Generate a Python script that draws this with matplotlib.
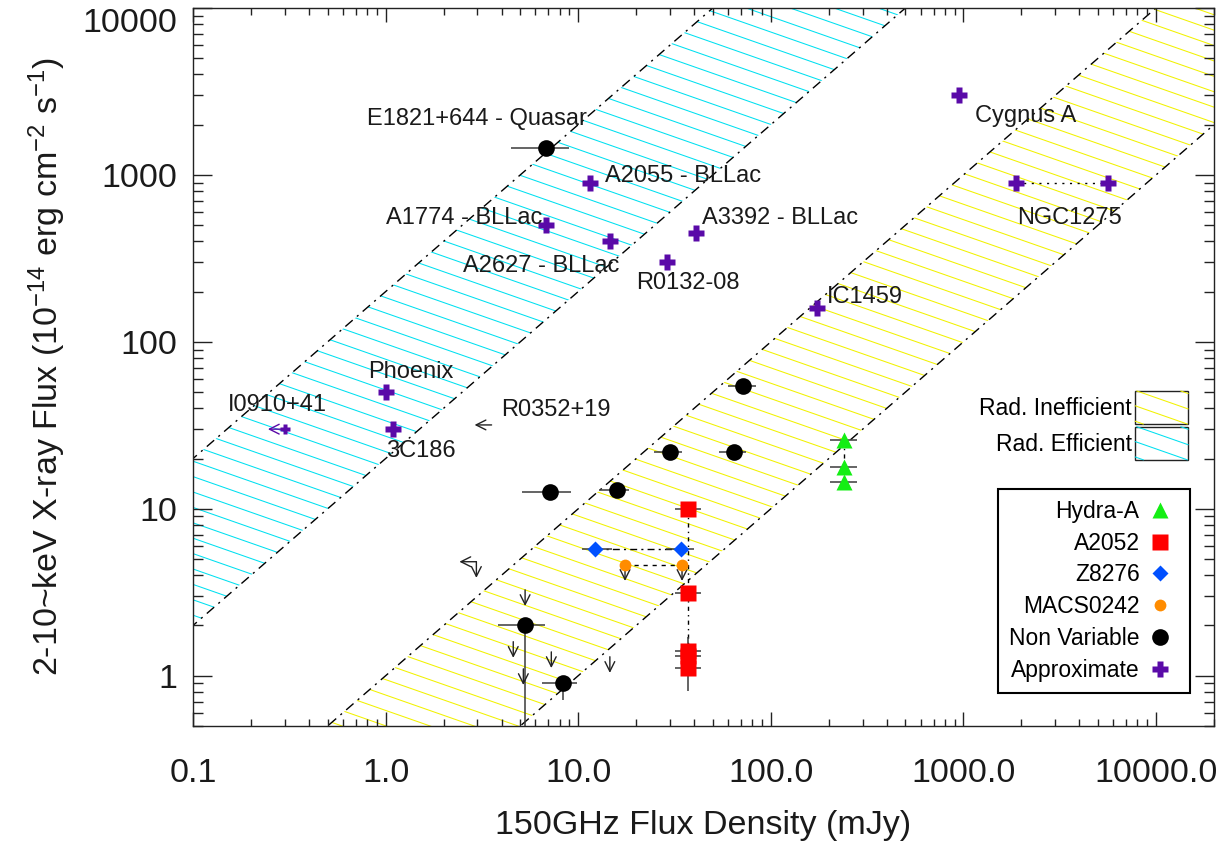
import numpy as np
import matplotlib
matplotlib.use('Agg')
import matplotlib.pyplot as plt
from matplotlib.patches import Polygon, Rectangle
from matplotlib.collections import LineCollection
from matplotlib.lines import Line2D
from matplotlib.legend_handler import HandlerBase
from matplotlib.ticker import NullFormatter

plt.rcParams['font.family'] = ['Liberation Sans', 'DejaVu Sans']
plt.rcParams['mathtext.fontset'] = 'custom'
plt.rcParams['mathtext.rm'] = 'Liberation Sans'
plt.rcParams['mathtext.default'] = 'regular'

# bands: X-ray flux = ratio * 150GHz flux (upper, lower)
eff_band = (200.0, 20.0)
ineff_band = (1.0, 0.1)

# approximate sources (purple crosses)
approx_x = [11.5, 6.8, 14.6, 40.8, 28.9, 953.0, 173.0, 1.0, 1.09]
approx_y = [900.0, 500.0, 400.0, 450.0, 300.0, 3000.0, 160.0, 50.0, 30.0]
ngc1275_x = [1880.0, 5640.0]
ngc1275_y = [900.0, 900.0]
i0910_x = [0.30]
i0910_y = [30.0]

# non variable sources
nv_x = [6.8, 7.1, 15.9, 30.0, 64.3, 71.6, 5.3, 8.3]
nv_y = [1450.0, 12.6, 13.0, 21.9, 21.9, 54.5, 2.0, 0.91]
nv_xlo = [4.5, 5.1, 12.8, 24.8, 53.6, 60.0, 3.85, 6.5]
nv_xhi = [9.0, 9.2, 18.4, 34.7, 74.0, 84.0, 6.7, 9.8]
nv_ylo = [1450.0, 12.6, 13.0, 21.9, 21.9, 54.5, 0.3, 0.72]
nv_yhi = [1450.0, 12.6, 13.0, 21.9, 21.9, 54.5, 2.0, 0.91]

# variable sources
hya_x = [239.0, 239.0, 239.0]
hya_y = [25.9, 17.8, 14.5]
hya_xlo, hya_xhi = 204.0, 280.0

a2052_x = [37.2, 37.2, 37.2, 37.2, 37.2]
a2052_y = [10.0, 3.14, 1.40, 1.32, 1.12]
a2052_ylo = [10.0, 3.14, 1.40, 1.32, 0.81]
a2052_yhi = [10.0, 3.14, 1.71, 1.32, 1.12]
a2052_xlo, a2052_xhi = 31.7, 43.4

z8276_x = [12.2, 34.2]
z8276_y = [5.75, 5.75]
z8276_xlo = [10.5, 28.5]
z8276_xhi = [15.0, 39.7]

macs_x = [17.5, 34.6]
macs_y = [4.62, 4.62]

# upper limits
down_x = [5.3, 4.6, 7.25, 5.19, 14.6, 2.96, 17.5, 34.6]
down_y = [3.27, 1.6, 1.39, 1.10, 1.30, 4.82, 4.62, 4.62]
left_x = [3.55, 2.96]
left_y = [31.8, 4.82]

label_text = ['E1821+644 - Quasar', 'A2055 - BLLac', 'A1774 - BLLac', 'A2627 - BLLac',
              'A3392 - BLLac', 'R0132-08', 'Cygnus A', 'NGC1275', 'IC1459', 'Phoenix',
              '3C186', 'I0910+41', 'R0352+19']
label_x = [0.80, 13.8, 1.0, 2.51, 43.9, 20.0, 1150.0, 1900.0, 195.0, 0.81, 1.0, 0.152, 3.99]
label_y = [2160.0, 986.0, 553.0, 285.0, 553.0, 225.0, 2250.0, 553.0, 186.0, 66.0, 22.3, 42.0, 39.0]

xticks = [0.1, 1, 10, 100, 1000, 10000]
xtick_labels = ['0.1', '1.0', '10.0', '100.0', '1000.0', '10000.0']
yticks = [1, 10, 100, 1000, 10000]
ytick_labels = ['1', '10', '100', '1000', '10000']

YELLOW = '#f2f200'
CYAN = '#00e0f0'
PURPLE = '#5a0aa8'
ECOL = '#3a3a3a'
SLOPE = 0.35      # hatch slope (pixels)
DV = 15.4         # hatch vertical spacing (pixels)

fig = plt.figure(figsize=(12.25, 8.44), dpi=100)
ax = fig.add_axes([193 / 1225, 1 - 726 / 844, 1021 / 1225, 718 / 844])
W = 1021.0
H = 718.0


def draw_band(ratios, color, phase):
    hi, lo = ratios
    xs = np.array([1e-3, 1e6])
    verts = [(xs[0], hi * xs[0]), (xs[1], hi * xs[1]), (xs[1], lo * xs[1]), (xs[0], lo * xs[0])]
    poly = Polygon(verts, closed=True, fc='none', ec='none', transform=ax.transData)
    ax.add_patch(poly)
    cs = np.arange(phase, H + SLOPE * W + DV, DV)
    segs = [[(0, c / H), (1, (c - SLOPE * W) / H)] for c in cs]
    lc = LineCollection(segs, colors=color, linewidths=0.75, transform=ax.transAxes, zorder=1)
    ax.add_collection(lc, autolim=False)
    lc.set_clip_path(poly)
    for r in (hi, lo):
        ax.plot(xs, r * xs, color='k', lw=1.0, dashes=(7, 4, 1.5, 4), zorder=1.5)


draw_band(eff_band, CYAN, 3.0)
draw_band(ineff_band, YELLOW, 6.0)

# connecting lines
ax.plot(ngc1275_x, ngc1275_y, color='k', lw=1, dashes=(1.5, 4), zorder=2)
ax.plot(z8276_x, z8276_y, color='k', lw=1, dashes=(5, 3, 1.5, 3), zorder=2)
ax.plot(macs_x, macs_y, color='k', lw=1, dashes=(3, 3.5), zorder=2)
ax.plot([a2052_x[0], a2052_x[-1]], [a2052_y[0], a2052_y[-1]], color='k', lw=1,
        dashes=(3, 3, 1, 3), zorder=2)
ax.plot([hya_x[0], hya_x[-1]], [hya_y[0], hya_y[-1]], color='k', lw=1,
        dashes=(3, 3, 1, 3), zorder=2)

# error bars
def errs(v, lo, hi):
    v = np.asarray(v, float)
    return [v - np.asarray(lo, float), np.asarray(hi, float) - v]

ax.errorbar(nv_x, nv_y, xerr=errs(nv_x, nv_xlo, nv_xhi), yerr=errs(nv_y, nv_ylo, nv_yhi),
            fmt='none', ecolor=ECOL, elinewidth=1.1, capsize=0, zorder=3)
ax.errorbar(hya_x, hya_y, xerr=errs(hya_x, [hya_xlo] * 3, [hya_xhi] * 3),
            fmt='none', ecolor=ECOL, elinewidth=1.1, capsize=0, zorder=3)
ax.errorbar(a2052_x, a2052_y, xerr=errs(a2052_x, [a2052_xlo] * 5, [a2052_xhi] * 5),
            yerr=errs(a2052_y, a2052_ylo, a2052_yhi),
            fmt='none', ecolor=ECOL, elinewidth=1.1, capsize=0, zorder=3)
ax.errorbar(z8276_x, z8276_y, xerr=errs(z8276_x, z8276_xlo, z8276_xhi),
            fmt='none', ecolor=ECOL, elinewidth=1.1, capsize=0, zorder=3)

# upper-limit arrows
aprops = dict(arrowstyle='->,head_length=0.5,head_width=0.25', color='#222222', lw=1.0,
              shrinkA=0, shrinkB=0, mutation_scale=14)
for x, y in zip(down_x, down_y):
    ax.annotate('', xy=(x, y * 0.80), xytext=(x, y), arrowprops=aprops, zorder=3)
for x, y in zip(left_x, left_y):
    ax.annotate('', xy=(x * 0.816, y), xytext=(x, y), arrowprops=aprops, zorder=3)
pprops = dict(aprops, color=PURPLE)
for x, y in zip(i0910_x, i0910_y):
    ax.annotate('', xy=(x * 0.816, y), xytext=(x, y), arrowprops=pprops, zorder=3)

# markers
ax.plot(hya_x, hya_y, '^', color='#14ee14', ms=12, mec='none', ls='none', zorder=4)
ax.plot(a2052_x, a2052_y, 's', color='#ff0000', ms=12, mec='none', ls='none', zorder=4)
ax.plot(z8276_x, z8276_y, 'D', color='#0050ff', ms=8.2, mec='none', ls='none', zorder=4)
ax.plot(macs_x, macs_y, 'o', color='#ff8c00', ms=8.5, mec='none', ls='none', zorder=4)
ax.plot(nv_x, nv_y, 'o', color='black', ms=12, mec='none', ls='none', zorder=4)
ax.plot(approx_x, approx_y, 'P', color=PURPLE, ms=11.5, mec='none', ls='none', zorder=4)
ax.plot(ngc1275_x, ngc1275_y, 'P', color=PURPLE, ms=11.5, mec='none', ls='none', zorder=4)
ax.plot(i0910_x, i0910_y, 'P', color=PURPLE, ms=6.5, mec='none', ls='none', zorder=4)

for t, x, y in zip(label_text, label_x, label_y):
    ax.text(x, y, t, fontsize=17, color='#1a1a1a', ha='left', va='center', zorder=5)

# axes
ax.set_xscale('log')
ax.set_yscale('log')
ax.set_xlim(0.1, 20000)
ax.set_ylim(0.5, 10000)
ax.set_xticks(xticks)
ax.set_xticklabels(xtick_labels)
ax.set_yticks(yticks)
ax.set_yticklabels(ytick_labels)
ax.xaxis.set_minor_formatter(NullFormatter())
ax.yaxis.set_minor_formatter(NullFormatter())
ax.tick_params(which='both', direction='in', top=True, right=True, width=1.0,
               color='#222222', labelsize=24.5, labelcolor='#1a1a1a')
ax.tick_params(axis='x', which='major', length=10, pad=23)
ax.tick_params(axis='x', which='minor', length=5)
ax.tick_params(axis='y', which='major', length=14, pad=11)
ax.tick_params(axis='y', which='minor', length=7)
ax.yaxis.get_major_ticks()[-1].label1.set_verticalalignment('top')
for sp in ax.spines.values():
    sp.set_linewidth(1.0)
    sp.set_color('#222222')

ax.set_xlabel('150GHz Flux Density (mJy)', fontsize=24.5, color='#1a1a1a', labelpad=15)
ax.set_ylabel('2-10~keV X-ray Flux (10$^{-14}$ erg cm$^{-2}$ s$^{-1}$)',
              fontsize=24.5, color='#1a1a1a', labelpad=11)


# legend for the hatched bands
class HatchHandler(HandlerBase):
    def __init__(self, color):
        super().__init__()
        self.color = color

    def create_artists(self, legend, orig_handle, xdescent, ydescent, width, height,
                       fontsize, trans):
        x0, y0 = -xdescent, -ydescent
        box = Rectangle((x0, y0), width, height, fc='white', ec='#222222', lw=1.0,
                        transform=trans)
        arts = [box]
        s = SLOPE
        dv = DV * 0.72
        for k in range(-4, 6):
            c = y0 + 2.0 + k * dv
            xa = max(x0, x0 + (c - (y0 + height)) / s)
            xb = min(x0 + width, x0 + (c - y0) / s)
            if xa < xb:
                ln = Line2D([xa, xb], [c - s * (xa - x0), c - s * (xb - x0)],
                            color=self.color, lw=0.75, transform=trans)
                arts.append(ln)
        return arts


h_in = Rectangle((0, 0), 1, 1)
h_ef = Rectangle((0, 0), 1, 1)
leg1 = ax.legend([h_in, h_ef], ['Rad. Inefficient', 'Rad. Efficient'],
                 handler_map={h_in: HatchHandler(YELLOW), h_ef: HatchHandler(CYAN)},
                 loc='upper right', bbox_to_anchor=(1188 / 1225, 1 - 391 / 844),
                 bbox_transform=fig.transFigure, frameon=False, markerfirst=False,
                 fontsize=16.5, handlelength=2.3, handleheight=1.84, handletextpad=0.15,
                 labelspacing=0.12, borderpad=0, borderaxespad=0)
ax.add_artist(leg1)

handles = [
    Line2D([], [], marker='^', color='#14ee14', ms=12, mec='none', ls='none'),
    Line2D([], [], marker='s', color='#ff0000', ms=12, mec='none', ls='none'),
    Line2D([], [], marker='D', color='#0050ff', ms=8.2, mec='none', ls='none'),
    Line2D([], [], marker='o', color='#ff8c00', ms=8.5, mec='none', ls='none'),
    Line2D([], [], marker='o', color='black', ms=12, mec='none', ls='none'),
    Line2D([], [], marker='P', color=PURPLE, ms=11.5, mec='none', ls='none'),
]
names = ['Hydra-A', 'A2052', 'Z8276', 'MACS0242', 'Non Variable', 'Approximate']
leg2 = ax.legend(handles, names, loc='lower right',
                 bbox_to_anchor=(1190 / 1225, 1 - 693 / 844), bbox_transform=fig.transFigure,
                 markerfirst=False, fontsize=16.5, handlelength=1.6, handletextpad=0.1,
                 labelspacing=0.38, borderpad=0.5, borderaxespad=0, fancybox=False,
                 framealpha=1, edgecolor='black', numpoints=1)
leg2.get_frame().set_linewidth(1.5)
leg2.set_zorder(6)

fig.savefig('out.png', dpi=100)
